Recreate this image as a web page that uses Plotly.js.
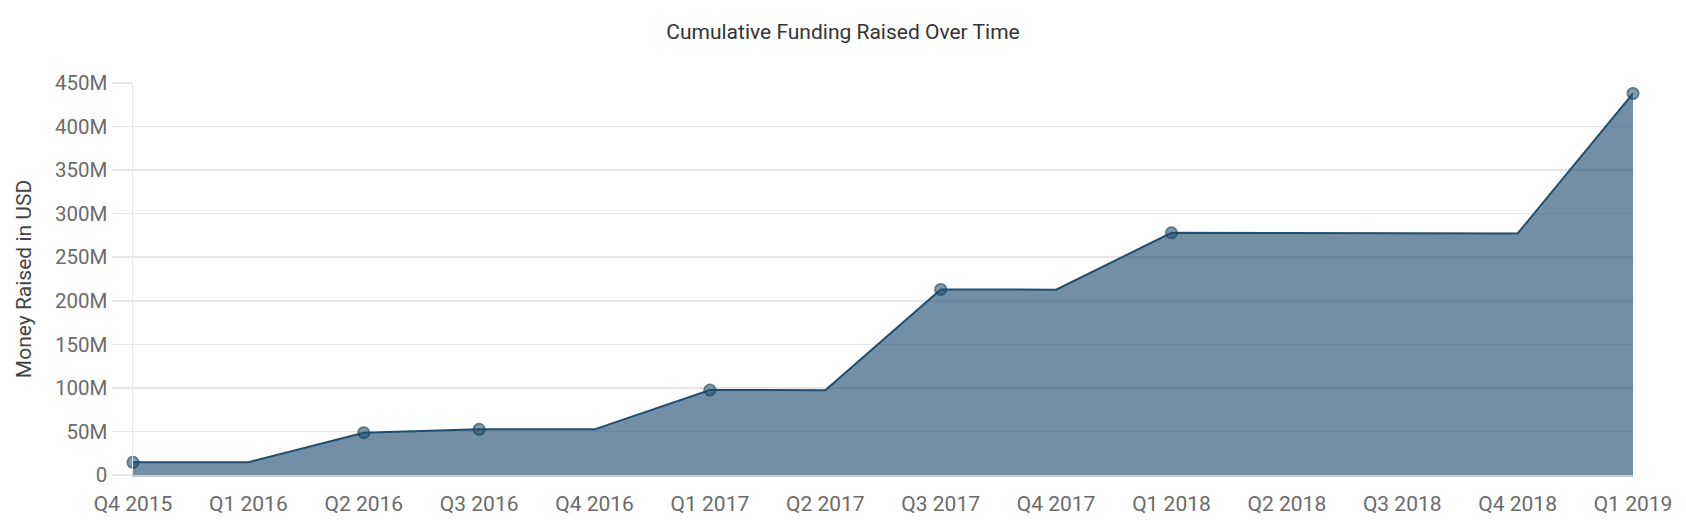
<!DOCTYPE html>
<html>
<head>
<meta charset="utf-8">
<script src="https://cdn.plot.ly/plotly-3.0.1.min.js"></script>
<style>
  html, body { margin: 0; padding: 0; background: #fff; }
  #chart { width: 1686px; height: 524px; }
</style>
</head>
<body>
<div id="chart"></div>
<script>
const quarters = ['Q4 2015', 'Q1 2016', 'Q2 2016', 'Q3 2016', 'Q4 2016', 'Q1 2017', 'Q2 2017',
                  'Q3 2017', 'Q4 2017', 'Q1 2018', 'Q2 2018', 'Q3 2018', 'Q4 2018', 'Q1 2019'];
const raised = [14.6e6, 14.6e6, 48.6e6, 52.4e6, 52.4e6, 97.6e6, 97.4e6,
                213e6, 212.8e6, 278e6, 277.7e6, 277.5e6, 277.3e6, 438e6];
// quarters in which a new round closed get a dot
const hasRound = [true, false, true, true, false, true, false,
                  true, false, true, false, false, false, true];

const lineColor = 'rgb(31,78,112)';

const trace = {
    x: quarters,
    y: raised,
    type: 'scatter',
    mode: 'lines+markers',
    fill: 'tozeroy',
    fillcolor: 'rgba(31,78,112,0.63)',
    line: {color: lineColor, width: 2},
    marker: {
        size: hasRound.map(r => r ? 11 : 0),
        color: 'rgba(31,78,112,0.8)',
        line: {color: 'rgb(24,64,94)', width: 2}
    },
    cliponaxis: false,
    hoverinfo: 'x+y'
};

const layout = {
    width: 1686,
    height: 524,
    margin: {l: 133, r: 53, t: 83, b: 49},
    paper_bgcolor: '#fff',
    plot_bgcolor: '#fff',
    font: {family: 'Roboto, sans-serif', size: 20, color: '#666'},
    showlegend: false,
    title: {
        text: 'Cumulative Funding Raised Over Time',
        font: {family: 'Roboto, sans-serif', size: 21, color: '#333'},
        x: 0.5, xanchor: 'center',
        y: 0.939, yanchor: 'middle'
    },
    xaxis: {
        type: 'category',
        range: [0, 13],
        showgrid: false,
        zeroline: false,
        showline: true,
        linecolor: '#ccc',
        linewidth: 2,
        ticks: '',
        ticklabelstandoff: 9,
        tickfont: {size: 21, color: '#6b6b6b'},
        fixedrange: true
    },
    yaxis: {
        range: [0, 450e6],
        dtick: 50e6,
        tickformat: '~s',
        showgrid: true,
        gridcolor: '#e6e6e6',
        gridwidth: 1.5,
        zeroline: false,
        showline: true,
        linecolor: '#e6e6e6',
        linewidth: 1.5,
        ticks: 'outside',
        ticklen: 20,
        tickcolor: '#e6e6e6',
        tickwidth: 1.5,
        tickfont: {size: 20.5, color: '#6b6b6b'},
        title: {text: 'Money Raised in USD', font: {size: 21, color: '#444'}, standoff: 17},
        fixedrange: true
    }
};

Plotly.newPlot('chart', [trace], layout, {displayModeBar: false, staticPlot: true});
</script>
</body>
</html>
